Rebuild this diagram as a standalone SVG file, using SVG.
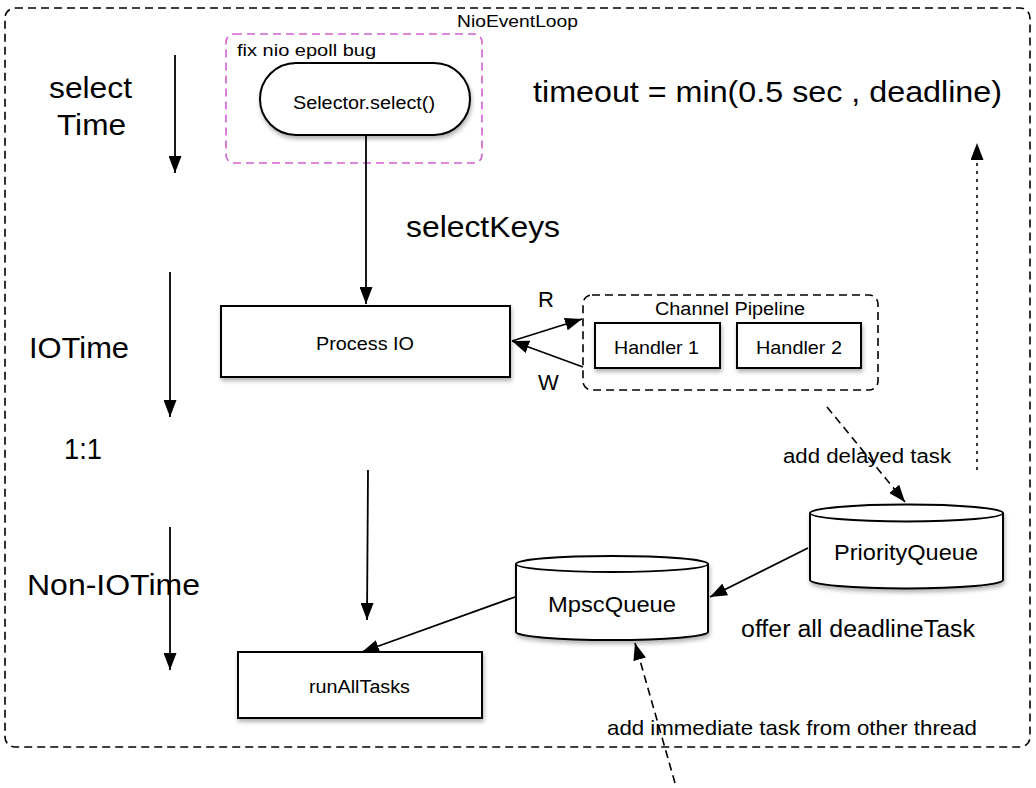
<svg xmlns="http://www.w3.org/2000/svg" width="1036" height="788" viewBox="0 0 1036 788">
<style>
text{font-family:"Liberation Sans",Arial,sans-serif;fill:#000}
.box{fill:#fff;stroke:#000;stroke-width:2}
.ln{fill:none;stroke:#000;stroke-width:1.8}
.dash{fill:none;stroke:#000;stroke-width:1.6;stroke-dasharray:8 5}
.big{font-size:30px}
</style>
<defs>
<marker id="ah" viewBox="0 0 17 13" refX="17" refY="6.5" markerWidth="17" markerHeight="13" markerUnits="userSpaceOnUse" orient="auto">
<path d="M0,0 L17,6.5 L0,13 z" fill="#000"/>
</marker>
<filter id="sh" x="-10%" y="-10%" width="130%" height="140%">
<feDropShadow dx="1" dy="3" stdDeviation="2" flood-color="#000" flood-opacity="0.3"/>
</filter>
</defs>

<g id="nioEventLoop">
<rect x="5" y="8" width="1025" height="739" rx="10" class="dash"/>
<text x="457" y="27" font-size="17" textLength="121" lengthAdjust="spacingAndGlyphs">NioEventLoop</text>
</g>

<g id="epollBug">
<rect x="226" y="34" width="256" height="129" rx="8" fill="none" stroke="#d35ed3" stroke-width="1.6" stroke-dasharray="8 5"/>
<text x="237" y="56" font-size="16" textLength="139" lengthAdjust="spacingAndGlyphs">fix nio epoll bug</text>
</g>

<g id="labels">
<text x="49" y="98" class="big" textLength="83" lengthAdjust="spacingAndGlyphs">select</text>
<text x="57" y="135" class="big" textLength="69" lengthAdjust="spacingAndGlyphs">Time</text>
<text x="29" y="358" class="big" textLength="100" lengthAdjust="spacingAndGlyphs">IOTime</text>
<text x="64" y="459" class="big" textLength="38" lengthAdjust="spacingAndGlyphs">1:1</text>
<text x="27" y="595" class="big" textLength="173" lengthAdjust="spacingAndGlyphs">Non-IOTime</text>
<text x="533" y="102" font-size="29" textLength="469" lengthAdjust="spacingAndGlyphs">timeout = min(0.5 sec , deadline)</text>
<text x="406" y="237" font-size="29" textLength="154" lengthAdjust="spacingAndGlyphs">selectKeys</text>
<text x="538" y="307" font-size="22">R</text>
<text x="538" y="390" font-size="22">W</text>
<text x="783" y="463" font-size="20" textLength="168" lengthAdjust="spacingAndGlyphs">add delayed task</text>
<text x="741" y="637" font-size="23" textLength="234" lengthAdjust="spacingAndGlyphs">offer all deadlineTask</text>
<text x="607" y="735" font-size="21" textLength="370" lengthAdjust="spacingAndGlyphs">add immediate task from other thread</text>
</g>

<g id="selector">
<rect x="260" y="63" width="210" height="72" rx="36" class="box" filter="url(#sh)"/>
<text x="293" y="109" font-size="18" textLength="142" lengthAdjust="spacingAndGlyphs">Selector.select()</text>
</g>

<g id="processIO">
<rect x="221" y="306" width="289" height="71" class="box" filter="url(#sh)"/>
<text x="316" y="350" font-size="18" textLength="98" lengthAdjust="spacingAndGlyphs">Process IO</text>
</g>

<g id="channelPipeline">
<rect x="583" y="295" width="295" height="95" rx="9" class="dash"/>
<text x="655" y="315" font-size="18" textLength="150" lengthAdjust="spacingAndGlyphs">Channel Pipeline</text>
</g>

<g id="handler1">
<rect x="595" y="323" width="125" height="45" class="box" filter="url(#sh)"/>
<text x="614" y="354" font-size="19" textLength="85" lengthAdjust="spacingAndGlyphs">Handler 1</text>
</g>

<g id="handler2">
<rect x="737" y="323" width="124" height="45" class="box" filter="url(#sh)"/>
<text x="756" y="354" font-size="19" textLength="86" lengthAdjust="spacingAndGlyphs">Handler 2</text>
</g>

<g id="priorityQueue">
<path d="M810,513 A96.5,8.5 0 0 1 1003,513 L1003,580 A96.5,8.5 0 0 1 810,580 Z" class="box" filter="url(#sh)"/>
<path d="M810,513 A96.5,8.5 0 0 0 1003,513" class="ln" stroke-width="2"/>
<text x="834" y="560" font-size="22" textLength="144" lengthAdjust="spacingAndGlyphs">PriorityQueue</text>
</g>

<g id="mpscQueue">
<path d="M516,564 A96,8 0 0 1 708,564 L708,632 A96,8 0 0 1 516,632 Z" class="box" filter="url(#sh)"/>
<path d="M516,564 A96,8 0 0 0 708,564" class="ln" stroke-width="2"/>
<text x="548" y="612" font-size="22" textLength="128" lengthAdjust="spacingAndGlyphs">MpscQueue</text>
</g>

<g id="runAllTasks">
<rect x="238" y="652" width="244" height="66" class="box" filter="url(#sh)"/>
<text x="309" y="693" font-size="18" textLength="101" lengthAdjust="spacingAndGlyphs">runAllTasks</text>
</g>

<g id="connectors">
<line x1="175" y1="55" x2="175" y2="173" class="ln" marker-end="url(#ah)"/>
<line x1="170" y1="272" x2="170" y2="417" class="ln" marker-end="url(#ah)"/>
<line x1="170" y1="527" x2="170" y2="670" class="ln" marker-end="url(#ah)"/>
<line x1="366" y1="135" x2="366" y2="304" class="ln" marker-end="url(#ah)"/>
<line x1="512" y1="341" x2="582" y2="319" class="ln" marker-end="url(#ah)"/>
<line x1="583" y1="367" x2="512" y2="341" class="ln" marker-end="url(#ah)"/>
<line x1="827" y1="407" x2="905" y2="502" class="dash" marker-end="url(#ah)"/>
<line x1="977" y1="470" x2="977" y2="143" fill="none" stroke="#000" stroke-width="1.6" stroke-dasharray="3 5" marker-end="url(#ah)"/>
<line x1="808" y1="548" x2="710" y2="597" class="ln" marker-end="url(#ah)"/>
<line x1="368" y1="470" x2="367" y2="620" class="ln" marker-end="url(#ah)"/>
<line x1="515" y1="597" x2="362" y2="652" class="ln" marker-end="url(#ah)"/>
<line x1="675" y1="783" x2="635" y2="643" class="dash" marker-end="url(#ah)"/>
</g>
</svg>
